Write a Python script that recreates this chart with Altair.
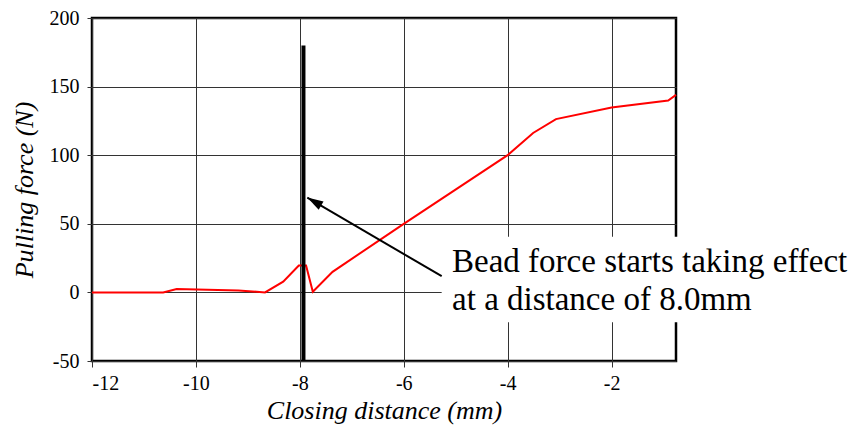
import altair as alt
import pandas as pd

# Red curve: closing distance (mm) vs pulling force (N)
dist = [-12, -10.63, -10.37, -9.18, -8.67, -8.32, -8.02, -7.88, -7.75, -7.37,
        -6.0, -4.0, -3.51, -3.07, -2.0, -0.91, -0.76]
force = [0, 0, 2.4, 1.4, 0, 7.8, 19.6, 19.6, 0.5, 15,
         50, 100, 116.2, 126.3, 134.8, 139.9, 144]

x_ticks = [-12, -10, -8, -6, -4, -2]
y_ticks = [-50, 0, 50, 100, 150, 200]
x_domain = [-12, -0.76]
y_domain = [-50, 200]

# Bead marker (thick vertical bar)
bead_x = [-7.93]
bead_y = [-50]
bead_y2 = [180]

# Annotation
note_lines = ["Bead force starts taking effect", "at a distance of 8.0mm"]
note_x = [-5.07, -5.07]
note_y = [15.2, -13.0]
box_x, box_x2, box_y, box_y2 = [-5.27], [0.0], [-21.7], [40.6]
arrow_x, arrow_y = [-5.27, -7.856], [11.8, 69.1]

FONT = "Liberation Serif"

df = pd.DataFrame({"x": dist, "y": force})
xs = alt.Scale(domain=x_domain, nice=False, zero=False)
ys = alt.Scale(domain=y_domain, nice=False, zero=False)

line = alt.Chart(df).mark_line(color="#ff0000", strokeWidth=2).encode(
    x=alt.X("x:Q", scale=xs, axis=alt.Axis(
        values=x_ticks, title="Closing distance (mm)", grid=True,
        labelExpr="toString(datum.value)",
        labelFont=FONT, titleFont=FONT,
        tickSize=6, labelPadding=6, titlePadding=4)),
    y=alt.Y("y:Q", scale=ys, axis=alt.Axis(
        values=y_ticks, title="Pulling force (N)", grid=True,
        labelExpr="toString(datum.value)",
        labelFont=FONT, titleFont=FONT,
        tickSize=5, labelPadding=8, titlePadding=12)),
)

bead = alt.Chart(pd.DataFrame({"x": bead_x, "y": bead_y, "y2": bead_y2})).mark_rule(
    color="black", strokeWidth=4).encode(x="x:Q", y="y:Q", y2="y2:Q")

box = alt.Chart(pd.DataFrame({"x": box_x, "x2": box_x2, "y": box_y, "y2": box_y2})).mark_rect(
    color="white", clip=False).encode(x="x:Q", x2="x2:Q", y="y:Q", y2="y2:Q")

arrow_df = pd.DataFrame({"x": arrow_x, "y": arrow_y, "o": [0, 1]})
arrow = alt.Chart(arrow_df).mark_line(color="black", strokeWidth=2).encode(
    x="x:Q", y="y:Q", order="o:Q")
head = alt.Chart(arrow_df.iloc[[1]]).mark_point(
    shape="M0,0L0.6,2L-0.6,2Z", size=256, filled=True, color="black",
    opacity=1, angle=300.4).encode(x="x:Q", y="y:Q")

text = alt.Chart(pd.DataFrame({"x": note_x, "y": note_y, "t": note_lines})).mark_text(
    align="left", baseline="alphabetic", font=FONT, fontSize=33, color="black",
    clip=False).encode(x="x:Q", y="y:Q", text="t:N")

chart = alt.layer(line, bead, box, arrow, head, text).properties(
    width=584, height=343,
    autosize=alt.AutoSizeParams(type="none"),
    padding={"left": 84, "top": 10, "right": 178, "bottom": 66},
).configure(
    font=FONT
).configure_view(
    stroke="black", strokeWidth=2.5, fill="white"
).configure_axis(
    domain=False, gridColor="#333", gridWidth=1, gridOpacity=1,
    tickColor="#333", tickWidth=1,
    labelFont=FONT, labelFontSize=20, labelColor="black",
    titleFont=FONT, titleFontSize=26, titleFontStyle="italic",
    titleFontWeight="normal", titleColor="black",
)

chart.save("out.html", embed_options={"renderer": "svg", "actions": False})
